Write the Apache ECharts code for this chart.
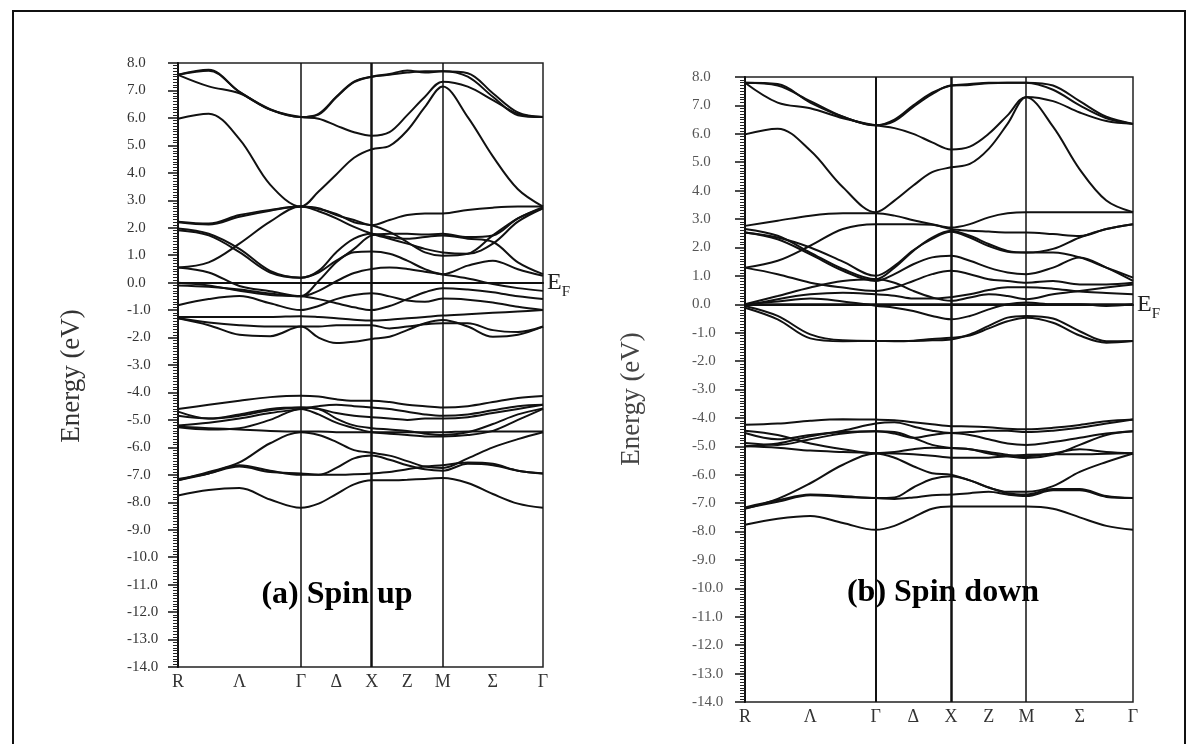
<!DOCTYPE html>
<html><head><meta charset="utf-8">
<script src="https://cdn.jsdelivr.net/npm/echarts@6/dist/echarts.min.js"></script>
<style>html,body{margin:0;padding:0;background:#fff}#c{width:1196px;height:744px}</style>
</head><body><div id="c"></div>
<script>
// k-path coordinates (units of pi/a): R-Γ = √3, Γ-X = 1, X-M = 1, M-Γ = √2
const kPath = [0, 0.4330, 0.8660, 1.2990, 1.7321, 1.9821, 2.2321, 2.4821, 2.7321, 2.9821, 3.2321, 3.4821, 3.7321, 4.0856, 4.4392, 4.7927, 5.1463];
const kTickPos = [0, 0.8660, 1.7321, 2.2321, 2.7321, 3.2321, 3.7321, 4.4392, 5.1463];
const kTickNames = ['R', 'Λ', 'Γ', 'Δ', 'X', 'Z', 'M', 'Σ', 'Γ'];
const symPoints = [1.7321, 2.7321, 3.7321];
const fermiLevel = 0;

// (a) Spin up bands (eV) sampled at kPath
const upUpper = [
  [7.57, 7.75, 6.95, 6.30, 6.03, 6.15, 6.77, 7.32, 7.50, 7.57, 7.65, 7.70, 7.70, 7.63, 6.90, 6.20, 6.03],
  [7.57, 7.15, 6.90, 6.30, 6.03, 5.97, 5.72, 5.48, 5.35, 5.48, 6.10, 6.77, 7.32, 7.14, 6.65, 6.15, 6.03],
  [7.57, 7.72, 6.95, 6.32, 6.03, 6.12, 6.75, 7.30, 7.50, 7.60, 7.73, 7.65, 7.70, 7.50, 6.77, 6.10, 6.03],
  [5.97, 6.15, 5.23, 3.57, 2.77, 3.32, 3.94, 4.55, 4.86, 4.98, 5.54, 6.40, 7.14, 6.03, 4.60, 3.40, 2.77]
];
const upMid = [
  [2.22, 2.15, 2.46, 2.65, 2.77, 2.71, 2.46, 2.28, 2.09, 2.28, 2.46, 2.52, 2.52, 2.65, 2.73, 2.77, 2.77],
  [0.55, 0.74, 1.42, 2.22, 2.77, 2.60, 2.34, 2.03, 1.78, 1.60, 1.42, 1.23, 1.10, 1.05, 1.42, 2.22, 2.71],
  [1.97, 1.78, 1.23, 0.43, 0.18, 0.37, 0.80, 1.11, 1.13, 1.05, 0.80, 0.49, 0.31, 0.62, 0.80, 0.49, 0.25],
  [1.91, 1.72, 1.11, 0.37, 0.18, 0.43, 1.11, 1.60, 1.78, 1.66, 1.60, 1.66, 1.72, 1.60, 1.48, 0.74, 0.31],
  [2.20, 2.12, 2.40, 2.62, 2.77, 2.68, 2.50, 2.20, 2.09, 1.85, 1.48, 1.10, 0.98, 1.05, 1.72, 2.34, 2.75],
  [0.55, 0.37, -0.12, -0.31, -0.49, 0.06, 0.74, 1.23, 1.72, 1.78, 1.78, 1.75, 1.78, 1.66, 1.72, 2.34, 2.71],
  [-0.10, -0.15, -0.25, -0.40, -0.50, -0.30, 0.05, 0.35, 0.50, 0.55, 0.50, 0.40, 0.30, 0.15, -0.05, -0.20, -0.30]
];
const upNear = [
  [-0.82, -0.60, -0.49, -0.75, -1.00, -0.85, -0.60, -0.45, -0.39, -0.50, -0.65, -0.70, -0.58, -0.62, -0.72, -0.88, -1.00],
  [0.00, -0.10, -0.30, -0.45, -0.50, -0.60, -0.75, -0.90, -1.00, -0.85, -0.60, -0.35, -0.20, -0.25, -0.35, -0.50, -0.60],
  [-1.25, -1.25, -1.25, -1.25, -1.22, -1.25, -1.30, -1.35, -1.38, -1.35, -1.30, -1.25, -1.20, -1.15, -1.10, -1.05, -1.00],
  [-1.30, -1.55, -1.90, -1.95, -1.60, -2.00, -2.20, -2.15, -2.05, -1.97, -1.73, -1.48, -1.36, -1.60, -1.97, -1.90, -1.60],
  [-1.30, -1.45, -1.55, -1.60, -1.60, -1.60, -1.55, -1.55, -1.55, -1.67, -1.60, -1.52, -1.48, -1.48, -1.73, -1.80, -1.60]
];
const upLower = [
  [-7.75, -7.55, -7.48, -7.90, -8.20, -8.05, -7.70, -7.35, -7.20, -7.20, -7.18, -7.15, -7.12, -7.30, -7.70, -8.05, -8.20],
  [-7.20, -6.90, -6.55, -5.85, -5.45, -5.55, -5.80, -6.10, -6.20, -6.30, -6.50, -6.70, -6.75, -6.40, -6.00, -5.70, -5.45],
  [-7.20, -6.95, -6.65, -6.85, -7.00, -7.00, -6.75, -6.40, -6.30, -6.45, -6.65, -6.80, -6.85, -6.60, -6.65, -6.85, -6.95],
  [-7.15, -6.95, -6.70, -6.90, -6.95, -7.00, -7.00, -6.98, -6.95, -6.90, -6.80, -6.70, -6.65, -6.55, -6.60, -6.85, -6.95],
  [-5.25, -5.30, -5.35, -5.40, -5.42, -5.42, -5.45, -5.45, -5.45, -5.45, -5.45, -5.45, -5.45, -5.42, -5.42, -5.42, -5.42],
  [-4.60, -4.45, -4.30, -4.17, -4.12, -4.15, -4.25, -4.30, -4.30, -4.35, -4.45, -4.50, -4.55, -4.50, -4.35, -4.20, -4.13],
  [-4.70, -4.95, -4.85, -4.65, -4.55, -4.60, -4.95, -5.20, -5.30, -5.35, -5.40, -5.50, -5.55, -5.45, -5.15, -4.80, -4.58],
  [-4.85, -4.95, -4.80, -4.60, -4.55, -4.60, -4.75, -4.85, -4.90, -4.95, -5.00, -4.95, -4.95, -4.90, -4.75, -4.60, -4.45],
  [-5.20, -5.10, -4.95, -4.75, -4.60, -4.50, -4.45, -4.50, -4.55, -4.60, -4.70, -4.80, -4.85, -4.80, -4.65, -4.50, -4.45],
  [-5.27, -5.35, -5.30, -5.00, -4.60, -4.80, -5.10, -5.30, -5.45, -5.50, -5.55, -5.60, -5.60, -5.55, -5.40, -5.00, -4.60]
];

// (b) Spin down bands (eV) sampled at kPath
const dnUpper = [
  [7.80, 7.70, 7.15, 6.60, 6.30, 6.50, 7.00, 7.45, 7.70, 7.75, 7.80, 7.80, 7.80, 7.70, 7.15, 6.60, 6.35],
  [7.80, 7.10, 6.90, 6.55, 6.30, 6.20, 6.00, 5.70, 5.45, 5.55, 6.00, 6.65, 7.30, 7.15, 6.75, 6.45, 6.35],
  [7.80, 7.75, 7.10, 6.60, 6.30, 6.45, 6.95, 7.40, 7.70, 7.72, 7.78, 7.80, 7.80, 7.55, 7.00, 6.55, 6.35],
  [5.98, 6.18, 5.41, 4.12, 3.24, 3.65, 4.18, 4.65, 4.82, 4.94, 5.47, 6.35, 7.29, 6.25, 4.75, 3.65, 3.24]
];
const dnMid = [
  [2.76, 2.94, 3.12, 3.20, 3.20, 3.12, 2.96, 2.82, 2.70, 2.82, 3.06, 3.20, 3.24, 3.24, 3.24, 3.24, 3.24],
  [1.29, 1.53, 2.06, 2.65, 2.82, 2.82, 2.82, 2.80, 2.65, 2.59, 2.56, 2.53, 2.53, 2.47, 2.40, 2.65, 2.82],
  [2.65, 2.41, 1.82, 1.24, 0.88, 1.29, 1.88, 2.35, 2.59, 2.41, 2.12, 1.88, 1.82, 1.82, 1.65, 1.29, 0.94],
  [2.53, 2.29, 1.76, 1.18, 0.82, 1.06, 1.41, 1.65, 1.71, 1.53, 1.29, 1.12, 1.06, 1.29, 1.65, 1.29, 0.82],
  [1.29, 1.06, 0.76, 0.59, 0.47, 0.59, 0.82, 1.06, 1.18, 1.06, 0.88, 0.82, 0.76, 0.82, 0.70, 0.70, 0.76],
  [0.00, 0.29, 0.59, 0.82, 0.88, 0.76, 0.47, 0.24, 0.12, 0.24, 0.35, 0.29, 0.18, 0.35, 0.47, 0.59, 0.70],
  [-0.06, 0.18, 0.35, 0.41, 0.35, 0.30, 0.20, 0.20, 0.25, 0.35, 0.50, 0.60, 0.60, 0.55, 0.45, 0.40, 0.35],
  [2.53, 2.35, 2.00, 1.50, 1.00, 1.35, 1.90, 2.30, 2.55, 2.35, 2.05, 1.85, 1.82, 1.95, 2.35, 2.65, 2.82]
];
const dnNear = [
  [-0.06, -0.41, -1.06, -1.27, -1.29, -1.29, -1.29, -1.27, -1.24, -1.06, -0.76, -0.47, -0.41, -0.50, -0.95, -1.30, -1.29],
  [-0.12, -0.53, -1.20, -1.30, -1.29, -1.30, -1.28, -1.22, -1.18, -1.10, -0.85, -0.60, -0.47, -0.65, -1.10, -1.35, -1.29],
  [0.00, 0.10, 0.20, 0.10, -0.05, -0.12, -0.24, -0.41, -0.53, -0.41, -0.18, 0.00, 0.06, 0.00, 0.00, -0.06, 0.00]
];
const dnLower = [
  [-7.76, -7.55, -7.45, -7.70, -7.94, -7.80, -7.50, -7.20, -7.12, -7.12, -7.12, -7.12, -7.12, -7.20, -7.50, -7.80, -7.94],
  [-7.20, -6.85, -6.30, -5.65, -5.25, -5.40, -5.70, -5.95, -6.00, -6.20, -6.45, -6.60, -6.60, -6.40, -5.90, -5.55, -5.25],
  [-7.15, -6.90, -6.70, -6.75, -6.82, -6.80, -6.45, -6.15, -6.05, -6.20, -6.45, -6.65, -6.70, -6.50, -6.50, -6.75, -6.82],
  [-7.18, -6.95, -6.72, -6.78, -6.82, -6.85, -6.80, -6.72, -6.70, -6.65, -6.60, -6.70, -6.75, -6.55, -6.55, -6.78, -6.82],
  [-5.00, -5.05, -5.15, -5.20, -5.24, -5.25, -5.28, -5.33, -5.40, -5.40, -5.40, -5.35, -5.30, -5.28, -5.28, -5.26, -5.24],
  [-4.24, -4.20, -4.10, -4.05, -4.06, -4.08, -4.15, -4.22, -4.29, -4.30, -4.33, -4.38, -4.40, -4.35, -4.25, -4.12, -4.06],
  [-4.53, -4.75, -4.60, -4.50, -4.47, -4.50, -4.70, -4.95, -5.06, -5.10, -5.25, -5.35, -5.41, -5.30, -4.95, -4.60, -4.47],
  [-4.88, -4.95, -4.75, -4.55, -4.47, -4.55, -4.70, -4.60, -4.53, -4.60, -4.75, -4.90, -4.95, -4.85, -4.70, -4.55, -4.47],
  [-5.00, -4.90, -4.65, -4.45, -4.20, -4.15, -4.30, -4.45, -4.53, -4.50, -4.45, -4.45, -4.50, -4.45, -4.35, -4.20, -4.06],
  [-4.45, -4.60, -4.90, -5.10, -5.24, -5.20, -5.10, -5.05, -5.06, -5.10, -5.20, -5.30, -5.35, -5.25, -5.10, -5.20, -5.24]
];

const panelTitles = ['(a) Spin up', '(b) Spin down'];
const axisTitle = 'Energy (eV)';

const SERIF = '"Liberation Serif", "DejaVu Serif", serif';
const chart = echarts.init(document.getElementById('c'), null, {renderer: 'canvas'});

function bandSeries(bands, idx) {
  return bands.map(b => ({
    type: 'line', xAxisIndex: idx, yAxisIndex: idx, silent: true,
    symbol: 'none', smooth: 0.35, animation: false,
    lineStyle: {color: '#111', width: 2},
    data: kPath.map((k, i) => [k, b[i]])
  }));
}

function refSeries(idx, xWidths, efWidth) {
  return {
    type: 'line', xAxisIndex: idx, yAxisIndex: idx, silent: true, data: [],
    markLine: {
      silent: true, symbol: ['none', 'none'], animation: false,
      label: {show: false},
      data: symPoints.map((x, i) => ({xAxis: x, lineStyle: {color: '#111', width: xWidths[i], type: 'solid'}}))
        .concat([{
          yAxis: fermiLevel, lineStyle: {color: '#111', width: efWidth, type: 'solid'},
          label: {
            show: true, position: 'end', distance: 4,
            formatter: '{e|E}{f|F}',
            rich: {
              e: {fontFamily: SERIF, fontSize: 24, color: '#222', lineHeight: 34, verticalAlign: 'middle'},
              f: {fontFamily: SERIF, fontSize: 15, color: '#222', lineHeight: 15, verticalAlign: 'bottom'}
            }
          }
        }])
    }
  };
}

function xAx(idx) {
  return {
    type: 'value', gridIndex: idx, min: 0, max: kPath[kPath.length - 1],
    axisLine: {show: true, lineStyle: {color: '#111', width: 2}},
    axisTick: {show: false}, splitLine: {show: false},
    axisLabel: {
      customValues: kTickPos, margin: 6, color: '#333', fontFamily: SERIF, fontSize: 18,
      formatter: v => { const i = kTickPos.findIndex(p => Math.abs(p - v) < 1e-3); return i >= 0 ? kTickNames[i] : ''; }
    }
  };
}

function yAx(idx, margin, color) {
  return {
    type: 'value', gridIndex: idx, min: -14, max: 8, interval: 1,
    axisLine: {show: true, lineStyle: {color: '#111', width: 2}},
    axisTick: {show: true, length: 10, lineStyle: {color: '#111', width: 1.5}},
    minorTick: {show: true, splitNumber: 10, length: 5, lineStyle: {color: '#222', width: 1}},
    splitLine: {show: false},
    axisLabel: {margin: margin, align: 'left', color: color, fontFamily: SERIF, fontSize: 15,
      formatter: v => v.toFixed(1)}
  };
}

const option = {
  backgroundColor: '#fff',
  animation: false,
  grid: [
    {left: 178, top: 63, width: 365, height: 604, show: true, borderColor: '#222', borderWidth: 1.5},
    {left: 745, top: 77, width: 388, height: 625, show: true, borderColor: '#222', borderWidth: 1.5}
  ],
  xAxis: [xAx(0), xAx(1)],
  yAxis: [yAx(0, 51, '#333'), yAx(1, 53, '#555')],
  series: [].concat(
    bandSeries(upUpper, 0), bandSeries(upMid, 0), bandSeries(upNear, 0), bandSeries(upLower, 0),
    [refSeries(0, [1.5, 2.5, 1.5], 1.5)],
    bandSeries(dnUpper, 1), bandSeries(dnMid, 1), bandSeries(dnNear, 1), bandSeries(dnLower, 1),
    [refSeries(1, [2, 2.5, 1.5], 2.5)]
  ),
  graphic: [
    {type: 'rect', silent: true, shape: {x: 13, y: 11, width: 1172, height: 800},
      style: {fill: 'none', stroke: '#111', lineWidth: 2}},
    {type: 'text', silent: true, x: 72, y: 376, rotation: Math.PI / 2,
      style: {text: axisTitle, fontFamily: SERIF, fontSize: 27, fill: '#333', textAlign: 'center', textVerticalAlign: 'middle'}},
    {type: 'text', silent: true, x: 632, y: 399, rotation: Math.PI / 2,
      style: {text: axisTitle, fontFamily: SERIF, fontSize: 27, fill: '#444', textAlign: 'center', textVerticalAlign: 'middle'}},
    {type: 'text', silent: true, x: 337, y: 595, style: {text: panelTitles[0], fontFamily: SERIF, fontWeight: 'bold', fontSize: 32, fill: '#000', textAlign: 'center', textVerticalAlign: 'middle'}},
    {type: 'text', silent: true, x: 943, y: 593, style: {text: panelTitles[1], fontFamily: SERIF, fontWeight: 'bold', fontSize: 32, fill: '#000', textAlign: 'center', textVerticalAlign: 'middle'}}
  ]
};
chart.setOption(option);
</script>
</body></html>
